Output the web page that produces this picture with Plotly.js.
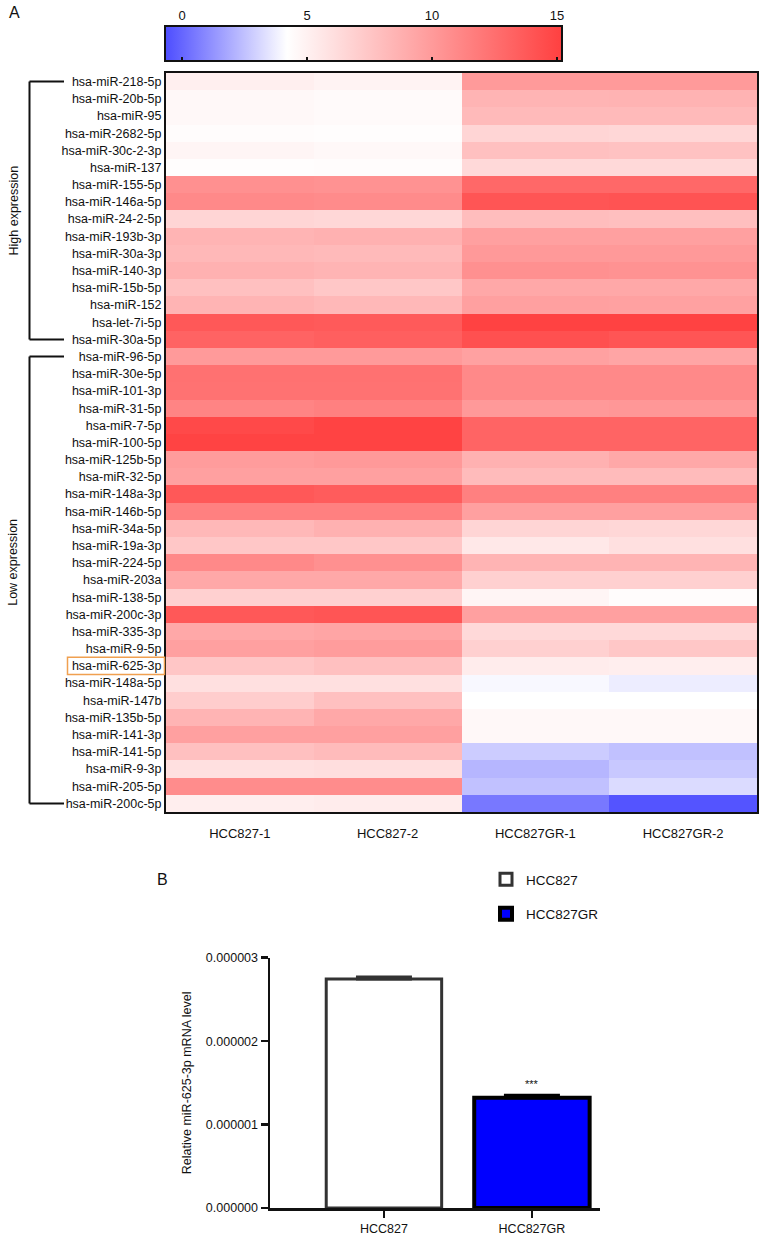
<!DOCTYPE html>
<html lang="en">
<head>
    <meta charset="UTF-8">
    <title>miR-625-3p heatmap and qPCR</title>
    <script src="https://cdn.plot.ly/plotly-3.0.1.min.js"></script>
    <style>
        body { margin: 0; padding: 0; background: #fff; }
    </style>
</head>
<body>
    <div id="plot" style="width:765px;height:1238px;"></div>
    <script>
        // heatmap data: rows top to bottom, columns = samples
        const samples = ['HCC827-1', 'HCC827-2', 'HCC827GR-1', 'HCC827GR-2'];
        const highMirs = ['hsa-miR-218-5p', 'hsa-miR-20b-5p', 'hsa-miR-95', 'hsa-miR-2682-5p',
            'hsa-miR-30c-2-3p', 'hsa-miR-137', 'hsa-miR-155-5p', 'hsa-miR-146a-5p', 'hsa-miR-24-2-5p',
            'hsa-miR-193b-3p', 'hsa-miR-30a-3p', 'hsa-miR-140-3p', 'hsa-miR-15b-5p', 'hsa-miR-152',
            'hsa-let-7i-5p', 'hsa-miR-30a-5p'];
        const lowMirs = ['hsa-miR-96-5p', 'hsa-miR-30e-5p', 'hsa-miR-101-3p', 'hsa-miR-31-5p',
            'hsa-miR-7-5p', 'hsa-miR-100-5p', 'hsa-miR-125b-5p', 'hsa-miR-32-5p', 'hsa-miR-148a-3p',
            'hsa-miR-146b-5p', 'hsa-miR-34a-5p', 'hsa-miR-19a-3p', 'hsa-miR-224-5p', 'hsa-miR-203a',
            'hsa-miR-138-5p', 'hsa-miR-200c-3p', 'hsa-miR-335-3p', 'hsa-miR-9-5p', 'hsa-miR-625-3p',
            'hsa-miR-148a-5p', 'hsa-miR-147b', 'hsa-miR-135b-5p', 'hsa-miR-141-3p', 'hsa-miR-141-5p',
            'hsa-miR-9-3p', 'hsa-miR-205-5p', 'hsa-miR-200c-5p'];
        const mirs = highMirs.concat(lowMirs);

        const hcc827_1 = [5.1, 4.6, 4.6, 4.4, 4.8, 4.3, 10.6, 11.0, 6.6, 8.5, 8.3, 8.7, 7.8, 8.5, 13.8, 13.2,
            10.0, 12.4, 12.3, 11.3, 14.7, 15.0, 9.9, 9.7, 13.8, 11.5, 8.3, 7.4, 11.0, 9.2, 6.9, 13.8,
            9.2, 9.7, 7.5, 6.0, 7.1, 8.5, 9.7, 7.8, 6.0, 10.8, 5.2];
        const hcc827_2 = [4.9, 4.5, 4.5, 4.3, 4.6, 4.4, 10.5, 10.9, 6.5, 8.7, 8.2, 8.5, 7.4, 8.3, 13.7, 13.4,
            10.0, 12.4, 12.3, 11.5, 15.0, 15.0, 10.1, 9.7, 13.6, 11.5, 8.7, 7.4, 10.6, 9.2, 6.9, 14.0,
            9.4, 9.9, 7.8, 6.0, 7.8, 9.2, 9.7, 8.1, 6.1, 10.8, 5.3];
        const gr_1 = [10.0, 8.5, 8.2, 6.6, 7.8, 6.4, 12.9, 14.0, 8.0, 9.7, 10.1, 10.6, 9.2, 9.7, 15.1, 14.3,
            9.6, 11.0, 11.0, 10.1, 13.1, 13.1, 8.7, 8.1, 11.5, 9.7, 6.6, 5.5, 8.5, 6.9, 4.8, 9.7,
            6.4, 6.9, 5.3, 4.0, 4.2, 4.6, 4.6, 2.8, 2.2, 2.5, 0.5];
        const gr_2 = [10.0, 8.6, 8.2, 6.5, 7.7, 6.4, 12.9, 14.1, 7.9, 9.7, 10.1, 10.5, 9.2, 9.6, 15.1, 14.0,
            9.4, 11.0, 11.0, 10.2, 13.1, 13.1, 9.2, 8.1, 11.5, 9.7, 6.5, 6.0, 8.5, 6.9, 4.4, 9.7,
            6.4, 7.4, 5.2, 3.7, 4.2, 4.6, 4.6, 2.5, 2.7, 3.2, -0.5];
        const colorTicks = [0, 5, 10, 15];

        // bar chart data
        const groups = ['HCC827', 'HCC827GR'];
        const relLevel = [2.745e-6, 1.322e-6];
        const relErr = [0.025e-6, 0.03e-6];
        const barTicks = [0, 1e-6, 2e-6, 3e-6];

        const W = 765, H = 1238;
        const px = v => v / W;
        const py = v => 1 - v / H;
        const FONT = 'Liberation Sans, Arial, Helvetica, sans-serif';

        // transpose columns into rows for plotly
        const z = mirs.map((m, i) => [hcc827_1[i], hcc827_2[i], gr_1[i], gr_2[i]]);

        const zmin = -0.68, zmax = 15.2;
        const whitePos = (4.2 - zmin) / (zmax - zmin);

        const heat = {
            type: 'heatmap',
            x: samples,
            y: mirs,
            z: z,
            zmin: zmin,
            zmax: zmax,
            colorscale: [[0, '#4d4dff'], [whitePos, '#ffffff'], [1, '#ff4040']],
            hoverinfo: 'x+y+z',
            showscale: true,
            showlegend: false,
            colorbar: {
                orientation: 'h',
                x: px(165), xanchor: 'left',
                y: py(26), yanchor: 'top',
                len: 397, lenmode: 'pixels',
                thickness: 35, thicknessmode: 'pixels',
                xpad: 0, ypad: 0,
                outlinewidth: 2, outlinecolor: '#111',
                tickvals: colorTicks,
                ticks: 'inside', ticklen: 5, tickcolor: '#111', tickwidth: 1.5,
                showticklabels: false
            },
            xaxis: 'x', yaxis: 'y'
        };

        // empty carrier so the colorbar label axis gets drawn
        const scaleAxis = {
            type: 'scatter', mode: 'markers',
            x: colorTicks, y: colorTicks.map(() => 0.5),
            marker: { opacity: 0 }, hoverinfo: 'skip', showlegend: false,
            xaxis: 'x2', yaxis: 'y2'
        };

        const barA = {
            type: 'bar',
            name: groups[0],
            x: [groups[0]],
            y: [relLevel[0]],
            width: 0.78,
            marker: { color: '#ffffff', line: { color: '#333333', width: 3 } },
            error_y: { type: 'data', symmetric: false, array: [relErr[0]], arrayminus: [0],
                color: '#333333', thickness: 3, width: 28 },
            legendgroup: 'a',
            xaxis: 'x3', yaxis: 'y3'
        };
        const barB = {
            type: 'bar',
            name: groups[1],
            x: [groups[1]],
            y: [relLevel[1]],
            width: 0.78,
            marker: { color: '#0000ff', line: { color: '#000000', width: 4 } },
            error_y: { type: 'data', symmetric: false, array: [relErr[1]], arrayminus: [0],
                color: '#000000', thickness: 3, width: 28 },
            legendgroup: 'b',
            xaxis: 'x3', yaxis: 'y3'
        };

        const iHighEnd = highMirs.length - 1;
        const iLowStart = highMirs.length;
        const iLowEnd = mirs.length - 1;
        const iMark = mirs.indexOf('hsa-miR-625-3p');

        const bracketLine = (x0, y0, x1, y1) => ({
            type: 'line', xref: 'paper', yref: 'y',
            x0: x0, x1: x1, y0: y0, y1: y1,
            line: { color: '#111', width: 2 }
        });

        const shapes = [
            bracketLine(px(29.5), 0, px(29.5), iHighEnd),
            bracketLine(px(29.5), 0, px(64), 0),
            bracketLine(px(29.5), iHighEnd, px(64), iHighEnd),
            bracketLine(px(29.5), iLowStart, px(29.5), iLowEnd),
            bracketLine(px(29.5), iLowStart, px(64), iLowStart),
            bracketLine(px(29.5), iLowEnd, px(64), iLowEnd),
            {
                type: 'rect', xref: 'paper', yref: 'y',
                x0: px(67.5), x1: px(164.5), y0: iMark - 0.5, y1: iMark + 0.5,
                line: { color: '#f0a050', width: 1.5 }
            }
        ];

        const annotations = [
            { text: 'A', xref: 'paper', yref: 'paper', x: px(14), y: py(12), xanchor: 'center', yanchor: 'middle',
              showarrow: false, font: { size: 16, family: FONT, color: '#111' } },
            { text: 'B', xref: 'paper', yref: 'paper', x: px(162), y: py(879), xanchor: 'center', yanchor: 'middle',
              showarrow: false, font: { size: 16, family: FONT, color: '#111' } },
            { text: 'High expression', xref: 'paper', yref: 'y', x: px(14), y: (0 + iHighEnd) / 2,
              xanchor: 'center', yanchor: 'middle',
              textangle: -90, showarrow: false, font: { size: 12.5, family: FONT, color: '#111' } },
            { text: 'Low expression', xref: 'paper', yref: 'y', x: px(13), y: 28,
              xanchor: 'center', yanchor: 'middle',
              textangle: -90, showarrow: false, font: { size: 12.5, family: FONT, color: '#111' } },
            { text: '***', xref: 'x3', yref: 'y3', x: groups[1], y: relLevel[1] + relErr[1],
              yanchor: 'bottom', yshift: 3, showarrow: false, font: { size: 11, family: FONT, color: '#111' } }
        ];

        const layout = {
            width: W, height: H,
            margin: { l: 0, r: 0, t: 0, b: 0 },
            paper_bgcolor: '#ffffff',
            plot_bgcolor: 'rgba(0,0,0,0)',
            font: { family: FONT, color: '#111', size: 12 },
            barmode: 'overlay',
            showlegend: true,
            legend: {
                x: px(486), xanchor: 'left', y: py(864), yanchor: 'top',
                font: { size: 13.5, family: FONT, color: '#111' },
                tracegroupgap: 14, bgcolor: 'rgba(0,0,0,0)'
            },
            xaxis: {
                domain: [px(166), px(757)], anchor: 'y',
                showline: true, linecolor: '#111', linewidth: 2, mirror: true,
                ticks: '', ticklabelstandoff: 8,
                tickfont: { size: 13, family: FONT, color: '#111' },
                showgrid: false, zeroline: false, fixedrange: true
            },
            yaxis: {
                domain: [py(812), py(73)], anchor: 'x',
                autorange: 'reversed',
                showline: true, linecolor: '#111', linewidth: 2, mirror: true,
                ticks: '', tickfont: { size: 12.5, family: FONT, color: '#111' },
                showgrid: false, zeroline: false, fixedrange: true
            },
            // axis that carries the colorbar tick labels above the bar
            xaxis2: {
                domain: [px(165), px(562)], anchor: 'y2', side: 'top',
                range: [zmin, zmax], tickvals: colorTicks,
                ticks: '', showgrid: false, zeroline: false, showline: false,
                ticklabelstandoff: 2,
                tickfont: { size: 13, family: FONT, color: '#111' }
            },
            yaxis2: {
                domain: [py(61), py(26)], anchor: 'x2', visible: false, range: [0, 1]
            },
            xaxis3: {
                domain: [px(270), px(600)], anchor: 'y3',
                type: 'category', categoryarray: groups,
                range: [-0.77, 1.46],
                showline: true, linecolor: '#111', linewidth: 2.5,
                ticks: 'outside', ticklen: 7, tickwidth: 2.5, tickcolor: '#111',
                tickfont: { size: 12.5, family: FONT, color: '#111' },
                showgrid: false, zeroline: false
            },
            yaxis3: {
                domain: [py(1208), py(957.7)], anchor: 'x3',
                range: [0, 3e-6], tickvals: barTicks, tickformat: '.6f',
                showline: true, linecolor: '#111', linewidth: 2.5,
                ticks: 'outside', ticklen: 7, tickwidth: 2.5, tickcolor: '#111',
                tickfont: { size: 12.5, family: FONT, color: '#111' },
                title: { text: 'Relative miR-625-3p mRNA level', font: { size: 12.5, family: FONT, color: '#111' }, standoff: 12 },
                showgrid: false, zeroline: false
            },
            shapes: shapes,
            annotations: annotations
        };

        Plotly.newPlot('plot', [heat, scaleAxis, barA, barB], layout, { displayModeBar: false, staticPlot: true });
    </script>
</body>
</html>
